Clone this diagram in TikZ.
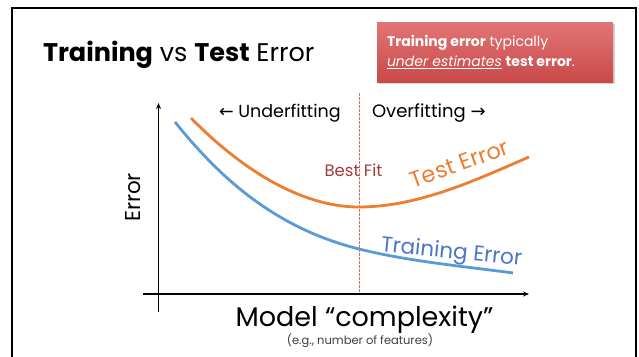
\documentclass[tikz,border=0pt]{standalone}
\usepackage{fontspec}
\setmainfont{Poppins}
\newfontfamily\arrowfont{DejaVu Sans}
\usetikzlibrary{arrows.meta}
\definecolor{testorange}{HTML}{ED7D31}
\definecolor{trainblue}{HTML}{5B9BD5}
\definecolor{trainlabel}{HTML}{4A76C8}
\definecolor{bestred}{HTML}{A13B3B}
\definecolor{boxtop}{HTML}{E27575}
\definecolor{boxbot}{HTML}{C94949}
\definecolor{dashred}{HTML}{E06666}
\definecolor{notegray}{HTML}{404040}
\begin{document}
\begin{tikzpicture}[x=1pt,y=-1pt,
  lbl/.style={inner sep=0pt, outer sep=0pt},
  axisline/.style={line width=1.8pt, -{Stealth[length=6pt,width=5pt]}},
  errcurve/.style={line width=2.8pt},
  fs/.style={font=\fontsize{#1}{#1}\selectfont}
]
\useasboundingbox (0,0) rectangle (639,356);
\fill[white] (0,0) rectangle (639,356);
% slide frame
\draw[line width=2pt] (11.5,358) -- (11.5,7.8) -- (635.5,7.8) -- (635.5,358);

% title
\node[lbl, anchor=base west, fs=25.5] (title) at (43,61) {\textbf{Training} vs \textbf{Test} Error};

% note box
\fill[black!18] (378.5,23.5) rectangle (614.5,83.5);
\shade[top color=boxtop, bottom color=boxbot] (377,22) rectangle (613,82);
\node[lbl, anchor=base west, fs=14, text=white] (note1) at (387,46.7) {\textbf{Training error} typically};
\node[lbl, anchor=base west, fs=14, text=white] (note2) at (387,66.5) {\underline{\textit{under estimates}} \textbf{test error}.};

% axes
\coordinate (yb) at (158.5,312);
\coordinate (yt) at (158.5,103);
\coordinate (xl) at (143,294);
\coordinate (xr) at (529,294);
\draw[axisline] (yb) -- (yt);
\draw[axisline] (xl) -- (xr);

% best fit divider
\coordinate (dt) at (359,93);
\coordinate (db) at (359,292);
\draw[dashred, line width=0.8pt, dash pattern=on 2.5pt off 1.5pt] (dt) -- (db);

\node[lbl, anchor=base west, fs=17.5] (under) at (219,117) {{\arrowfont ←} Underfitting};
\node[lbl, anchor=base west, fs=18] (over) at (372,117) {Overfitting {\arrowfont →}};
\node[lbl, anchor=base, fs=16.5, text=bestred] (best) at (353.5,176) {Best Fit};

% curves
\draw[errcurve, testorange] (191,118) .. controls (240,168) and (300,207) .. (359,207)
  .. controls (420,207) and (480,178) .. (529,157);
\draw[errcurve, trainblue] (175,122) .. controls (220,178) and (275,228) .. (359,249)
  .. controls (410,261.75) and (470,267) .. (513,273);

\node[lbl, anchor=base, rotate=20, fs=22.5, text=testorange] (testlbl) at (462,171) {Test Error};
\node[lbl, anchor=base, rotate=-5.6, fs=21.5, text=trainlabel] (trainlbl) at (451,258.5) {Training Error};

% axis labels
\node[lbl, rotate=90, fs=21.5] (ylbl) at (133,197.5) {Error};
\node[lbl, anchor=base, fs=27] (xlbl) at (364.5,326) {Model “complexity”};
\node[lbl, fs=11.5, text=notegray] (xnote) at (360,341) {(e.g., number of features)};
\end{tikzpicture}
\end{document}
